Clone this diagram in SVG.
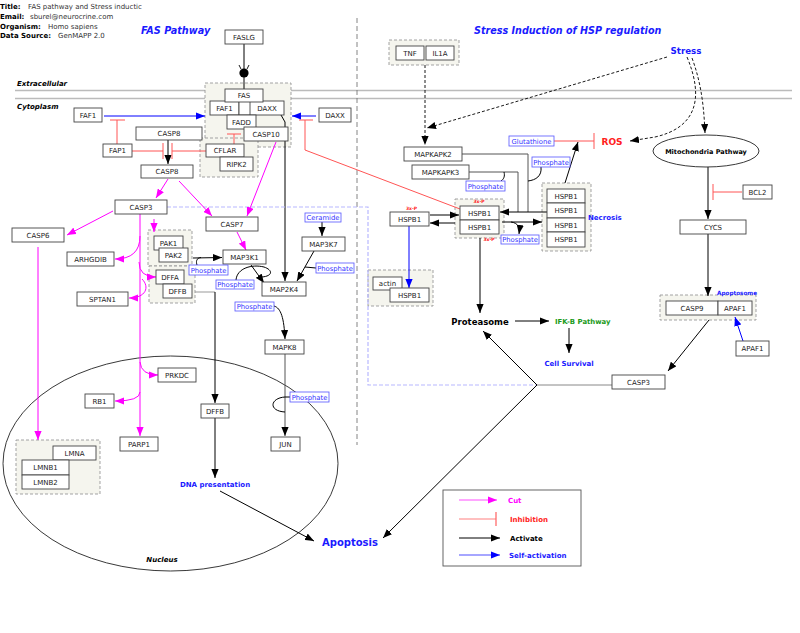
<svg xmlns="http://www.w3.org/2000/svg" width="800" height="633" viewBox="0 0 800 633">
<style>
.n rect{fill:#fff;stroke:#444;stroke-width:0.9}
.n text{font-family:"DejaVu Sans",sans-serif;font-size:7px;fill:#222;text-anchor:middle}
.g{fill:#f5f5ee;stroke:#999;stroke-width:0.9;stroke-dasharray:3,2}
.ph rect{fill:#fff;stroke:#5555ff;stroke-width:0.8}
.ph text{font-family:"DejaVu Sans",sans-serif;font-size:6.8px;fill:#3333ff;text-anchor:middle}
.lb{font-family:"DejaVu Sans",sans-serif;font-weight:bold}
.act{stroke:#000;stroke-width:1;fill:none}
.cut{stroke:#ff00ff;stroke-width:1;fill:none}
.inh{stroke:#ff5555;stroke-width:1;fill:none}
.sa{stroke:#0000ff;stroke-width:1;fill:none}
.dsh{stroke:#000;stroke-width:0.9;fill:none;stroke-dasharray:3,2}
</style>
<defs>
<marker id="ab" viewBox="0 0 10 8" refX="10" refY="4" markerWidth="9" markerHeight="7.2" markerUnits="userSpaceOnUse" orient="auto"><path d="M0,0 L10,4 L0,8 z" fill="#000"/></marker>
<marker id="am" viewBox="0 0 10 8" refX="10" refY="4" markerWidth="9" markerHeight="7.2" markerUnits="userSpaceOnUse" orient="auto"><path d="M0,0 L10,4 L0,8 z" fill="#ff00ff"/></marker>
<marker id="abl" viewBox="0 0 10 8" refX="10" refY="4" markerWidth="9" markerHeight="7.2" markerUnits="userSpaceOnUse" orient="auto"><path d="M0,0 L10,4 L0,8 z" fill="#0000ff"/></marker>
</defs>
<rect width="800" height="633" fill="#fff"/>

<!-- header -->
<g class="lb" font-size="7" fill="#000">
<text x="0" y="9">Title:</text>
<text x="0" y="19">Email:</text>
<text x="0" y="28.5">Organism:</text>
<text x="0" y="38">Data Source:</text>
</g>
<g font-family="DejaVu Sans, sans-serif" font-size="7" fill="#333">
<text x="28" y="9">FAS pathway and Stress inductic</text>
<text x="30" y="19">sburel@neurocrine.com</text>
<text x="48" y="28.5">Homo sapiens</text>
<text x="58" y="38">GenMAPP 2.0</text>
</g>
<text x="141" y="34" class="lb" font-size="9.7" font-style="italic" fill="#1a1aff">FAS Pathway</text>
<text x="474" y="34" class="lb" font-size="9.6" font-style="italic" fill="#1a1aff">Stress Induction of HSP regulation</text>

<!-- membrane -->
<line x1="15" y1="90.5" x2="792" y2="90.5" stroke="#bbb" stroke-width="1.6"/>
<line x1="15" y1="98.5" x2="792" y2="98.5" stroke="#bbb" stroke-width="1.6"/>
<text x="17" y="86" class="lb" font-size="7" font-style="italic">Extracellular</text>
<text x="17" y="109" class="lb" font-size="7" font-style="italic">Cytoplasm</text>
<line x1="357" y1="18" x2="357" y2="445" stroke="#777" stroke-width="0.9" stroke-dasharray="5,3"/>

<!-- nucleus -->
<ellipse cx="170.5" cy="463.5" rx="167.5" ry="107.5" fill="none" stroke="#222" stroke-width="0.9"/>
<text x="162" y="562" class="lb" font-size="7" font-style="italic" text-anchor="middle">Nucleus</text>

<!-- groups -->
<g id="groups">
<rect class="g" x="205" y="83" width="86" height="64"/>
<rect class="g" x="200" y="138" width="58" height="39"/>
<rect class="g" x="148" y="230" width="44" height="36"/>
<rect class="g" x="149" y="266" width="46" height="37"/>
<rect class="g" x="16" y="440" width="84" height="54"/>
<rect class="g" x="389" y="40" width="70" height="25"/>
<rect class="g" x="455" y="199" width="49" height="39"/>
<rect class="g" x="542" y="183" width="49" height="68"/>
<rect class="g" x="368" y="270" width="65" height="36"/>
<rect class="g" x="660" y="295" width="96" height="25"/>
</g>

<!-- connectors -->
<g id="connectors">
<line x1="244" y1="44" x2="244" y2="89" stroke="#000" stroke-width="1"/>
<circle cx="244" cy="73" r="4.6" fill="#000"/>
<path d="M239,65 L241,69 M249,65 L247,69" stroke="#000" stroke-width="0.9" fill="none"/>

<line class="act" x1="168" y1="140" x2="168" y2="164" marker-end="url(#ab)"/>
<path class="act" d="M281,115 L285,122 L285,281" marker-end="url(#ab)"/>
<line class="act" x1="193" y1="258" x2="222" y2="257.5" marker-end="url(#ab)"/>
<path class="act" d="M201,257.5 C196,258 196,262 197,265" stroke-width="0.8"/>
<line class="act" x1="251" y1="265" x2="264" y2="283" marker-end="url(#ab)"/>
<path class="act" d="M236,280 C237,268 252,264 264,267 C273,270 273,276 262,277" stroke-width="0.8"/>
<line class="act" x1="322" y1="222" x2="322" y2="236" marker-end="url(#ab)"/>
<line class="act" x1="314" y1="251" x2="297" y2="281" marker-end="url(#ab)"/>
<line class="act" x1="316" y1="268" x2="305" y2="267" stroke-width="0.8"/>
<path class="act" d="M274,306 C281,308 284,318 285,339" marker-end="url(#ab)"/>
<line x1="285" y1="354" x2="285" y2="436" stroke="#555" stroke-width="1" marker-end="url(#ab)"/>
<path class="act" d="M290,397 L285,397 C270,398 268,411 285,412" stroke-width="0.8"/>
<path d="M195,292 L215,292" stroke="#999" stroke-width="1" fill="none"/>
<line class="act" x1="215" y1="292" x2="215" y2="403" marker-end="url(#ab)"/>
<line class="act" x1="215" y1="418" x2="215" y2="478" marker-end="url(#ab)"/>
<line class="act" x1="220" y1="491" x2="314" y2="541" marker-end="url(#ab)"/>

<line class="dsh" x1="425" y1="65" x2="425" y2="145" marker-end="url(#ab)"/>
<line class="dsh" x1="667" y1="57" x2="427" y2="128" marker-end="url(#ab)"/>
<path class="dsh" d="M692,58 C702,85 704,110 705,133" marker-end="url(#ab)"/>
<path class="dsh" d="M687,57 C705,100 695,128 655,137 L630,141" marker-end="url(#ab)"/>

<line class="act" x1="565" y1="183" x2="578" y2="142" marker-end="url(#ab)"/>
<path d="M462,154 L528,154 L528,212 M469,172 L518,172 L518,212" stroke="#555" stroke-width="1" fill="none"/>
<line class="act" x1="547" y1="212" x2="500" y2="212" marker-end="url(#ab)"/>
<path class="act" d="M504,172 C505,176 504,179 501,181" stroke-width="0.8"/>
<path class="act" d="M541,167 C542,176 536,180 528,181" stroke-width="0.8"/>
<line class="act" x1="430" y1="215" x2="459" y2="215" marker-end="url(#ab)"/>
<line class="act" x1="455" y1="223" x2="430" y2="223" marker-end="url(#ab)"/>
<line class="act" x1="502" y1="222" x2="542" y2="222" marker-end="url(#ab)"/>
<path class="act" d="M511,222 C518,223 520,227 519,234" marker-end="url(#ab)"/>
<line class="sa" x1="409" y1="226" x2="409" y2="288" marker-end="url(#abl)"/>
<line class="act" x1="480" y1="238" x2="480" y2="313" marker-end="url(#ab)"/>
<line class="act" x1="515" y1="321" x2="549" y2="321" marker-end="url(#ab)"/>
<line class="act" x1="569" y1="328" x2="569" y2="353" marker-end="url(#ab)"/>
<line class="act" x1="708" y1="167" x2="708" y2="219" marker-end="url(#ab)"/>
<line class="act" x1="708" y1="234" x2="708" y2="296" marker-end="url(#ab)"/>
<line class="act" x1="709" y1="320" x2="668" y2="371" marker-end="url(#ab)"/>
<line class="sa" x1="743" y1="341" x2="735" y2="317" marker-end="url(#abl)"/>
<path d="M167,207 L368,207 L368,385 L537,385" stroke="#b8b8ff" stroke-width="1.2" stroke-dasharray="4,2" fill="none"/>
<line x1="612" y1="385" x2="537" y2="385" stroke="#888" stroke-width="1"/>
<line class="act" x1="537" y1="385" x2="483" y2="331" marker-end="url(#ab)"/>
<line class="act" x1="537" y1="385" x2="383" y2="538" marker-end="url(#ab)"/>

<line class="cut" x1="168" y1="179" x2="156" y2="198" marker-end="url(#am)"/>
<line class="cut" x1="179" y1="181" x2="212" y2="216" marker-end="url(#am)"/>
<line class="cut" x1="276" y1="142" x2="247" y2="216" marker-end="url(#am)"/>
<line class="cut" x1="237" y1="232" x2="246" y2="250" marker-end="url(#am)"/>
<line class="cut" x1="113" y1="211" x2="67" y2="235" marker-end="url(#am)"/>
<line class="cut" x1="154" y1="219" x2="154" y2="232" marker-end="url(#am)"/>
<line class="cut" x1="140" y1="214" x2="140" y2="436" marker-end="url(#am)"/>
<path class="cut" d="M140,236 Q140,259 115,259" marker-end="url(#am)"/>
<path class="cut" d="M139,262 Q139,277 156,277" marker-end="url(#am)"/>
<path class="cut" d="M142,279 C150,287 146,298 129,298" marker-end="url(#am)"/>
<path class="cut" d="M140,362 Q141,375 158,375" marker-end="url(#am)"/>
<path class="cut" d="M140,392 Q140,401 115,401" marker-end="url(#am)"/>
<line class="cut" x1="38" y1="247" x2="38" y2="440" marker-end="url(#am)"/>

<path class="inh" d="M117,144 L117,120 M110,120 L125,120"/>
<path class="inh" d="M132,151 L163,151 M163,143 L163,159"/>
<path class="inh" d="M206,151 L172,151 M172,143 L172,159"/>
<path class="inh" d="M234,144 L234,134 M227,134 L241,134"/>
<path class="inh" d="M460,209 L305,150 L305,120 M299,120 L313,120" stroke="#ff3333"/>
<path class="inh" d="M554,141 L594,141 M594,133 L594,149"/>
<path class="inh" d="M742,192 L713,192 M713,184 L713,200"/>
<line class="sa" x1="104" y1="116" x2="205" y2="116" marker-end="url(#abl)"/>
<line class="sa" x1="316" y1="116" x2="292" y2="116" marker-end="url(#abl)"/>
</g>

<!-- nodes -->
<g id="n-FASLG" class="n"><rect x="225" y="30" width="38" height="14"/><text x="244" y="39.5">FASLG</text></g>
<g id="n-FAF1c" class="n"><rect x="210" y="101" width="29" height="14"/><text x="224.5" y="110.5">FAF1</text></g>
<g id="n-DAXXc" class="n"><rect x="239" y="101" width="45" height="14"/><line x1="250" y1="101" x2="250" y2="115" stroke="#444" stroke-width="0.9"/><text x="267" y="110.5">DAXX</text></g>
<g id="n-FAS" class="n"><rect x="225" y="89" width="38" height="13"/><text x="244" y="98">FAS</text></g>
<g id="n-FADD" class="n"><rect x="227" y="115" width="29" height="14"/><text x="241.5" y="124.5">FADD</text></g>
<g id="n-CASP10" class="n"><rect x="244" y="127" width="44" height="14"/><text x="266" y="136.5">CASP10</text></g>
<g id="n-CFLAR" class="n"><rect x="206" y="144" width="38" height="13"/><text x="225" y="153">CFLAR</text></g>
<g id="n-RIPK2" class="n"><rect x="220" y="157" width="33" height="14"/><text x="236.5" y="166.5">RIPK2</text></g>
<g id="n-FAF1" class="n"><rect x="74" y="108" width="28" height="14"/><text x="88" y="117.5">FAF1</text></g>
<g id="n-FAP1" class="n"><rect x="103" y="144" width="29" height="13"/><text x="117.5" y="153">FAP1</text></g>
<g id="n-CASP8a" class="n"><rect x="136" y="127" width="66" height="13"/><text x="169" y="136">CASP8</text></g>
<g id="n-CASP8b" class="n"><rect x="141" y="165" width="52" height="13"/><text x="167" y="174">CASP8</text></g>
<g id="n-DAXX" class="n"><rect x="319" y="108" width="32" height="14"/><text x="335" y="117.5">DAXX</text></g>
<g id="n-CASP3" class="n"><rect x="115" y="200" width="52" height="14"/><text x="141" y="209.5">CASP3</text></g>
<g id="n-CASP7" class="n"><rect x="206" y="217" width="52" height="14"/><text x="232" y="226.5">CASP7</text></g>
<g id="n-CASP6" class="n"><rect x="12" y="228" width="52" height="14"/><text x="38" y="237.5">CASP6</text></g>
<g id="n-ARHGDIB" class="n"><rect x="67" y="252" width="47" height="14"/><text x="90.5" y="261.5">ARHGDIB</text></g>
<g id="n-SPTAN1" class="n"><rect x="77" y="292" width="51" height="14"/><text x="102.5" y="301.5">SPTAN1</text></g>
<g id="n-PAK1" class="n"><rect x="154" y="236" width="29" height="14"/><text x="168.5" y="245.5">PAK1</text></g>
<g id="n-PAK2" class="n"><rect x="159" y="248" width="29" height="14"/><text x="173.5" y="257.5">PAK2</text></g>
<g id="n-DFFA" class="n"><rect x="156" y="270" width="28" height="14"/><text x="170" y="279.5">DFFA</text></g>
<g id="n-DFFB" class="n"><rect x="163" y="284" width="29" height="14"/><text x="177.5" y="293.5">DFFB</text></g>
<g id="n-MAP3K1" class="n"><rect x="223" y="250" width="43" height="14"/><text x="244.5" y="259.5">MAP3K1</text></g>
<g id="n-MAP3K7" class="n"><rect x="302" y="237" width="43" height="14"/><text x="323.5" y="246.5">MAP3K7</text></g>
<g id="n-MAP2K4" class="n"><rect x="262" y="282" width="44" height="14"/><text x="284" y="291.5">MAP2K4</text></g>
<g id="n-MAPK8" class="n"><rect x="265" y="340" width="39" height="14"/><text x="284.5" y="349.5">MAPK8</text></g>
<g id="n-JUN" class="n"><rect x="271" y="437" width="29" height="14"/><text x="285.5" y="446.5">JUN</text></g>
<g id="n-PRKDC" class="n"><rect x="158" y="368" width="38" height="14"/><text x="177" y="377.5">PRKDC</text></g>
<g id="n-RB1" class="n"><rect x="85" y="394" width="29" height="14"/><text x="99.5" y="403.5">RB1</text></g>
<g id="n-PARP1" class="n"><rect x="120" y="437" width="38" height="14"/><text x="139" y="446.5">PARP1</text></g>
<g id="n-DFFBn" class="n"><rect x="201" y="404" width="28" height="14"/><text x="215" y="413.5">DFFB</text></g>
<g id="n-LMNA" class="n"><rect x="53" y="446" width="43" height="14"/><text x="74.5" y="455.5">LMNA</text></g>
<g id="n-LMNB1" class="n"><rect x="22" y="460" width="47" height="15"/><text x="45.5" y="470">LMNB1</text></g>
<g id="n-LMNB2" class="n"><rect x="22" y="475" width="47" height="14"/><text x="45.5" y="484.5">LMNB2</text></g>
<g id="n-TNF" class="n"><rect x="396" y="46" width="28" height="14"/><text x="410" y="55.5">TNF</text></g>
<g id="n-IL1A" class="n"><rect x="426" y="46" width="28" height="14"/><text x="440" y="55.5">IL1A</text></g>
<g id="n-MAPKAPK2" class="n"><rect x="404" y="147" width="58" height="14"/><text x="433" y="156.5">MAPKAPK2</text></g>
<g id="n-MAPKAPK3" class="n"><rect x="412" y="165" width="57" height="14"/><text x="440.5" y="174.5">MAPKAPK3</text></g>
<g id="n-HSPB1L" class="n"><rect x="390" y="212" width="39" height="14"/><text x="409.5" y="221.5">HSPB1</text></g>
<g id="n-HSPB1a" class="n"><rect x="460" y="206" width="39" height="14"/><text x="479.5" y="215.5">HSPB1</text></g>
<g id="n-HSPB1b" class="n"><rect x="460" y="220" width="39" height="14"/><text x="479.5" y="229.5">HSPB1</text></g>
<g id="n-HSPB1n1" class="n"><rect x="547" y="189" width="38" height="14"/><text x="566" y="198.5">HSPB1</text></g>
<g id="n-HSPB1n2" class="n"><rect x="547" y="203" width="38" height="15"/><text x="566" y="213">HSPB1</text></g>
<g id="n-HSPB1n3" class="n"><rect x="547" y="218" width="38" height="14"/><text x="566" y="227.5">HSPB1</text></g>
<g id="n-HSPB1n4" class="n"><rect x="547" y="232" width="38" height="15"/><text x="566" y="242">HSPB1</text></g>
<g id="n-actin" class="n"><rect x="373" y="277" width="29" height="13"/><text x="387.5" y="286">actin</text></g>
<g id="n-HSPB1act" class="n"><rect x="390" y="288" width="39" height="14"/><text x="409.5" y="297.5">HSPB1</text></g>
<g id="n-CYCS" class="n"><rect x="680" y="220" width="66" height="14"/><text x="713" y="229.5">CYCS</text></g>
<g id="n-BCL2" class="n"><rect x="743" y="185" width="29" height="14"/><text x="757.5" y="194.5">BCL2</text></g>
<g id="n-CASP9" class="n"><rect x="666" y="301" width="52" height="14"/><text x="692" y="310.5">CASP9</text></g>
<g id="n-APAF1g" class="n"><rect x="718" y="301" width="34" height="14"/><text x="735" y="310.5">APAF1</text></g>
<g id="n-APAF1" class="n"><rect x="736" y="341" width="33" height="15"/><text x="752.5" y="351">APAF1</text></g>
<g id="n-CASP3r" class="n"><rect x="612" y="375" width="53" height="14"/><text x="638.5" y="384.5">CASP3</text></g>
<g id="n-Mito">
<ellipse cx="706" cy="151" rx="53" ry="16" fill="#fff" stroke="#222" stroke-width="0.9"/>
<text x="706" y="153.5" class="lb" font-size="6.5" text-anchor="middle">Mitochondria Pathway</text>
</g>

<!-- small molecules / labels -->
<g id="n-Ceramide" class="ph"><rect x="305" y="213" width="36" height="9"/><text x="323" y="220">Ceramide</text></g>
<g id="n-Glutathione" class="ph"><rect x="509" y="136" width="45" height="10"/><text x="531.5" y="143.5">Glutathione</text></g>
<g id="n-P1" class="ph"><rect x="532" y="157" width="38" height="10"/><text x="551" y="164.5">Phosphate</text></g>
<g id="n-P2" class="ph"><rect x="466" y="181" width="39" height="10"/><text x="485.5" y="188.5">Phosphate</text></g>
<g id="n-P3" class="ph"><rect x="501" y="235" width="38" height="9"/><text x="520" y="242">Phosphate</text></g>
<g id="n-P4" class="ph"><rect x="189" y="265" width="39" height="10"/><text x="208.5" y="272.5">Phosphate</text></g>
<g id="n-P5" class="ph"><rect x="216" y="280" width="38" height="9"/><text x="235" y="287">Phosphate</text></g>
<g id="n-P6" class="ph"><rect x="316" y="263" width="38" height="10"/><text x="335" y="270.5">Phosphate</text></g>
<g id="n-P7" class="ph"><rect x="235" y="302" width="39" height="9"/><text x="254.5" y="309">Phosphate</text></g>
<g id="n-P8" class="ph"><rect x="290" y="392" width="39" height="10"/><text x="309.5" y="399.5">Phosphate</text></g>

<g id="labels" class="lb">
<text x="686" y="53.5" font-size="8.7" fill="#1a1aff" text-anchor="middle">Stress</text>
<text x="612" y="145" font-size="9" fill="#ff2020" text-anchor="middle">ROS</text>
<text x="588" y="220" font-size="7" fill="#1a1aff">Necrosis</text>
<text x="480" y="324.5" font-size="8.5" fill="#000" text-anchor="middle">Proteasome</text>
<text x="555" y="324" font-size="6.9" fill="#1a9a1a">IFK-B Pathway</text>
<text x="569" y="365.5" font-size="7" fill="#1a1aff" text-anchor="middle">Cell Survival</text>
<text x="717" y="295" font-size="5.7" fill="#1a1aff">Apoptosome</text>
<text x="215" y="487" font-size="7" fill="#1a1aff" text-anchor="middle">DNA presentation</text>
<text x="350" y="546" font-size="10" fill="#1a1aff" text-anchor="middle">Apoptosis</text>
<text x="411.5" y="210" font-size="4.5" fill="#ff2020" text-anchor="middle">3x-P</text>
<text x="479" y="203" font-size="4.5" fill="#ff2020" text-anchor="middle">3x-P</text>
<text x="489" y="241" font-size="4.5" fill="#ff2020" text-anchor="middle">3x-P</text>
</g>

<!-- legend -->
<g id="legend">
<rect x="443" y="490" width="138" height="76" fill="#fff" stroke="#555" stroke-width="0.9"/>
<line x1="459" y1="500" x2="497" y2="500" stroke="#ff88ff" stroke-width="1.5" marker-end="url(#am)"/>
<line x1="459" y1="519" x2="496" y2="519" stroke="#ff8080" stroke-width="1.2"/>
<line x1="496" y1="512" x2="496" y2="526" stroke="#ff6060" stroke-width="1.2"/>
<line x1="459" y1="538" x2="500" y2="538" stroke="#000" stroke-width="1" marker-end="url(#ab)"/>
<line x1="459" y1="555" x2="500" y2="555" stroke="#8888ff" stroke-width="1.5" marker-end="url(#abl)"/>
<g class="lb" font-size="7">
<text x="508" y="502.5" fill="#ff00ff">Cut</text>
<text x="510" y="521.5" fill="#ff2020">Inhibition</text>
<text x="510" y="540.5" fill="#000">Activate</text>
<text x="509" y="557.5" fill="#1a1aff">Self-activation</text>
</g>
</g>
</svg>
